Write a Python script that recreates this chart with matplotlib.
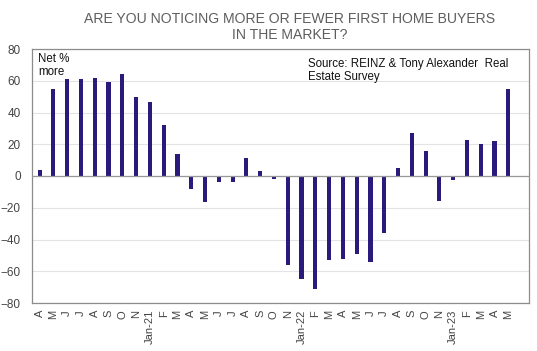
import matplotlib
matplotlib.use("Agg")
import matplotlib.pyplot as plt

labels = ["A", "M", "J", "J", "A", "S", "O", "N", "Jan-21",
          "F", "M", "A", "M", "J", "J", "A", "S", "O", "N", "Jan-22",
          "F", "M", "A", "M", "J", "J", "A", "S", "O", "N", "Jan-23",
          "F", "M", "A", "M"]
values = [4, 55, 61, 61, 62, 59, 64, 50, 46.5,
          32, 14, -8.5, -16.5, -4, -3.5, 11.5, 3, -2, -56, -65,
          -71, -53, -52.5, -49, -54, -36, 5, 27, 15.5, -16, -2.5,
          22.5, 20, 22, 54.5]

plt.rcParams['font.family'] = ['Liberation Sans', 'DejaVu Sans']
fig = plt.figure(figsize=(5.37, 3.51), dpi=100)
ax = fig.add_axes([32/537, 1-303/351, (529-32)/537, (303-49)/351])

x = list(range(len(values)))
ax.bar(x, values, width=0.3, color="#2A1A7C", zorder=3)
ax.set_xlim(-0.55, len(values) + 0.5)
ax.set_ylim(-80, 80)
ax.set_yticks(range(-80, 81, 20))
ax.set_xticks(x)
ax.set_xticklabels(labels, rotation=90, fontsize=8, color="#444444")
ax.tick_params(axis="y", labelsize=8.5, colors="#444444", length=0, pad=8)
ax.tick_params(axis="x", length=0, pad=5)
ax.grid(axis="y", color="#E3E3E3", linewidth=0.8, zorder=0)
ax.axhline(0, color="#999999", linewidth=0.9, zorder=4)
for s in ax.spines.values():
    s.set_color("#8C8C8C")
    s.set_linewidth(0.9)

ax.text(0.012, 0.985, "Net %\nmore", transform=ax.transAxes, va="top", ha="left",
        fontsize=8.3, color="#111111", linespacing=1.15)
ax.text(0.555, 0.965, "Source: REINZ & Tony Alexander  Real\nEstate Survey",
        transform=ax.transAxes, va="top", ha="left", fontsize=8.3,
        color="#111111", linespacing=1.15)

fig.text(290/537, 1-12/351, "ARE YOU NOTICING MORE OR FEWER FIRST HOME BUYERS\nIN THE MARKET?",
         ha="center", va="top", fontsize=10.1, color="#5E5E5E", linespacing=1.2)

fig.savefig("out.png", dpi=100)
